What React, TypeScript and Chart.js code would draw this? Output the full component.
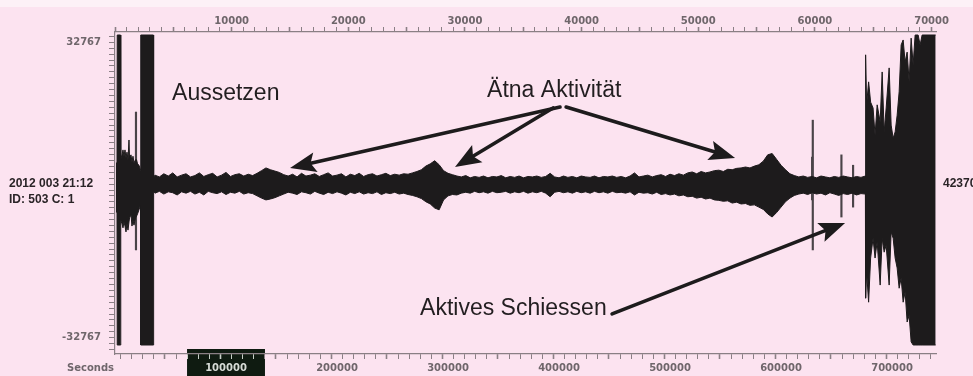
import React, { useEffect, useRef } from "react";
import { Chart, registerables } from "chart.js";

Chart.register(...registerables);

// ---- axes -------------------------------------------------------------
const secondsMin = 0;
const secondsMax = 739600;
const secondsMinorStep = 10000;
const secondsLabelStep = 100000;
const topMin = 0;
const topMax = 70380;
const topMinorStep = 1000;
const topLabelStep = 10000;
const countLimit = 32767;
const countMin = -36397;
const countMax = 35066;
const countTickStep = 1310.68;

// highlighted window on the seconds ruler
const windowStart = 64900;
const windowEnd = 135100;

// ---- waveform envelope: start (drop-out + first burst) -----------------
const leftTimes = [900, 1800, 2000, 5000, 5200, 6300, 7200, 8100, 9000, 9900, 10800, 11700, 12600, 13100, 14400, 15300, 16200, 17100, 18500, 19400, 20300, 21600, 23000, 23200, 34600, 34800];
const leftHigh = [6000, 6000, 34400, 34400, 6700, 7800, 8900, 7500, 8900, 7100, 8400, 6700, 11100, 7100, 7800, 6200, 7500, 6000, 6700, 6700, 5800, 5500, 4400, 34400, 34400, 2900];
const leftLow = [-4900, -4900, -34400, -34400, -6700, -7500, -8400, -7100, -8000, -9300, -7500, -8900, -7100, -6200, -5500, -8000, -6700, -7800, -6200, -5800, -5300, -4400, -3300, -34400, -34400, -400];

// ---- quiet band, one sample every 4000 s starting at 36000 s ------------
const bandStart = 36000;
const bandStep = 4000;
const bandHigh = [
  3300, 2900, 3600, 3100, 3800, 2900, 3300, 3600, 2900, 3200,
  3800, 3000, 3400, 3700, 2900, 3300, 3900, 3000, 3400, 3600,
  3100, 3500, 3200, 3700, 4300, 4900, 4500, 4200, 3900, 3400,
  3100, 3500, 2900, 3700, 3100, 3300, 3600, 3000, 3400, 3800,
  3100, 3300, 3600, 2900, 3500, 3200, 3700, 3000, 3400, 3600,
  3100, 3400, 3700, 3200, 3500, 3300, 3600, 3500, 3800, 4100,
  4500, 5300, 5800, 6500, 5600, 4300, 3700, 3400, 3100, 2900,
  3200, 2700, 3000, 2800, 3100, 2700, 3000, 2900, 3200, 2700,
  3000, 2800, 3100, 2700, 3000, 2900, 3100, 2800, 3000, 3700,
  2900, 2700, 3100, 2800, 3000, 2700, 3100, 2900, 2800, 3100,
  2700, 3000, 2900, 3100, 2800, 3000, 2700, 3100, 3800, 2900,
  3100, 3300, 2900, 3200, 3400, 3000, 3500, 3200, 3600, 3300,
  3800, 4000, 3600, 4100, 3800, 4000, 4300, 4400, 4100, 4600,
  4500, 4800, 4900, 5100, 4900, 5300, 5600, 6400, 7800, 8100,
  6800, 5500, 4500, 3600, 3200, 2900, 3100, 2800, 3000, 2700,
  3100, 2900, 2700, 3000, 2800, 3100, 2900, 2700, 3000, 2800,
  3100,
];
const bandLow = [
  -700, -300, -900, -400, -600, -1100, -400, -700, -300, -900,
  -500, -1100, -300, -600, -800, -400, -1000, -500, -700, -300,
  -900, -600, -800, -1300, -1800, -2200, -2000, -1700, -1300, -900,
  -500, -700, -1000, -400, -600, -900, -300, -700, -1000, -500,
  -800, -400, -700, -1100, -500, -800, -400, -900, -600, -800,
  -400, -1000, -600, -800, -500, -900, -700, -1000, -1200, -1500,
  -1900, -2600, -3100, -4000, -4400, -2200, -1300, -1000, -1100, -700,
  -500, -700, -300, -600, -400, -700, -300, -600, -500, -300,
  -700, -400, -600, -300, -700, -400, -600, -300, -700, -1500,
  -500, -300, -600, -400, -700, -300, -600, -400, -700, -300,
  -600, -400, -700, -300, -600, -500, -700, -400, -1100, -500,
  -700, -600, -900, -500, -1000, -800, -1100, -900, -1300, -1100,
  -1500, -1400, -1800, -1600, -2000, -1800, -2200, -2300, -2500, -2400,
  -2900, -2700, -3100, -3000, -3400, -3300, -3800, -4300, -5300, -6000,
  -5000, -3800, -2600, -1800, -1200, -900, -700, -1000, -600, -900,
  -700, -1100, -600, -900, -1200, -800, -1000, -700, -1100, -800,
  -900,
];

// ---- active shooting at the end -------------------------------------------
const rightTimes = [676200, 677100, 678900, 680700, 682900, 684700, 686600, 689300, 691100, 692900, 694700, 697400, 699200, 701000, 702800, 704600, 706400, 708200, 710000, 711800, 713600, 715400, 717200, 719000, 720800, 723500, 725300, 727100, 739300];
const rightHigh = [30000, 18900, 24000, 19500, 18200, 12200, 18900, 15100, 26200, 12900, 18200, 27100, 14400, 11500, 12900, 16600, 21800, 32200, 33300, 28400, 30600, 24000, 33700, 27800, 34400, 34400, 32200, 34400, 34400];
const rightLow = [-24000, -18200, -24900, -15100, -10700, -15100, -11500, -21100, -10700, -13800, -12200, -21100, -9300, -10700, -15100, -17300, -21800, -19500, -24900, -22600, -29300, -27800, -33700, -34400, -34400, -34400, -34400, -34400, -34400];

// ---- isolated thin spikes ------------------------------------------------
const spikeTimes = [18900, 628000, 628600, 654400, 664900];
const spikeHigh = [17300, 7300, 15500, 7800, 5500];
const spikeLow = [-13300, -2200, -13300, -6000, -3800];

// ---- annotations (data space) --------------------------------------------
const noteTexts = ["Aussetzen", "Ätna Aktivität", "Aktives Schiessen"];
const noteTimes = [51400, 335200, 274800];
const noteCounts = [20000, 20600, -27750];
const arrowFromTimes = [400900, 394600, 406400, 447800];
const arrowFromCounts = [18400, 18200, 18400, -27500];
const arrowToTimes = [157700, 306300, 558600, 657700];
const arrowToCounts = [4900, 5100, 7100, -7300];

const BG = "#fce3f0";
const INK = "#1d1b1c";
const RULER = "#8a7f85";
const TICKTXT = "#6f666b";
const AXIS_FONT = { family: "'DejaVu Sans', sans-serif", size: 10, weight: "bold" as const };

const bandTimes = bandHigh.map((_, i) => bandStart + i * bandStep);
const envTimes = [...leftTimes, ...bandTimes, ...rightTimes];
const envHigh = [...leftHigh, ...bandHigh, ...rightHigh];
const envLow = [...leftLow, ...bandLow, ...rightLow];

function rangeTicks(min: number, max: number, step: number) {
  const out: { value: number }[] = [];
  for (let v = min; v <= max + 1e-6; v += step) out.push({ value: v });
  return out;
}

function drawArrow(ctx: CanvasRenderingContext2D, x1: number, y1: number, x2: number, y2: number) {
  const ang = Math.atan2(y2 - y1, x2 - x1);
  const c = Math.cos(ang);
  const s = Math.sin(ang);
  const headLen = 26;
  const half = 10;
  const bx = x2 - headLen * c;
  const by = y2 - headLen * s;
  ctx.lineWidth = 3.6;
  ctx.lineCap = "round";
  ctx.beginPath();
  ctx.moveTo(x1, y1);
  ctx.lineTo(bx + 6 * c, by + 6 * s);
  ctx.stroke();
  ctx.beginPath();
  ctx.moveTo(x2, y2);
  ctx.lineTo(bx - half * s, by + half * c);
  ctx.lineTo(bx + 5 * c, by + 5 * s);
  ctx.lineTo(bx + half * s, by - half * c);
  ctx.closePath();
  ctx.fill();
}

const backgroundPlugin = {
  id: "seisBackground",
  beforeDraw(chart: any) {
    const { ctx, width, height, chartArea } = chart;
    const xs = chart.scales.x;
    ctx.save();
    ctx.fillStyle = BG;
    ctx.fillRect(0, 0, width, height);
    ctx.fillStyle = "#fdf1f7";
    ctx.fillRect(0, 0, width, 7);
    const x1 = xs.getPixelForValue(windowStart);
    const x2 = xs.getPixelForValue(windowEnd);
    const top = chartArea.bottom - 5;
    ctx.fillStyle = "#0f1b11";
    ctx.fillRect(x1, top, x2 - x1, height - top);
    ctx.restore();
  },
};

const notesPlugin = {
  id: "seisNotes",
  afterDatasetsDraw(chart: any) {
    const { ctx } = chart;
    const xs = chart.scales.x;
    const ys = chart.scales.y;
    ctx.save();
    ctx.strokeStyle = INK;
    ctx.fillStyle = INK;
    for (let i = 0; i < arrowFromTimes.length; i++) {
      drawArrow(
        ctx,
        xs.getPixelForValue(arrowFromTimes[i]),
        ys.getPixelForValue(arrowFromCounts[i]),
        xs.getPixelForValue(arrowToTimes[i]),
        ys.getPixelForValue(arrowToCounts[i])
      );
    }
    ctx.font = "23px 'Liberation Sans', Arial, sans-serif";
    ctx.textAlign = "left";
    ctx.textBaseline = "alphabetic";
    ctx.fillStyle = "#221e20";
    for (let i = 0; i < noteTexts.length; i++) {
      ctx.fillText(noteTexts[i], xs.getPixelForValue(noteTimes[i]), ys.getPixelForValue(noteCounts[i]));
    }
    ctx.restore();
  },
};

const inWindow = (v: number) => v >= windowStart && v <= windowEnd;

export default function App() {
  const ref = useRef<HTMLCanvasElement>(null);

  useEffect(() => {
    if (!ref.current) return;
    const chart = new Chart(ref.current, {
      type: "line",
      data: {
        datasets: [
          {
            label: "upper",
            data: envTimes.map((t, i) => ({ x: t, y: envHigh[i] })),
            borderColor: INK,
            backgroundColor: INK,
            borderWidth: 1,
            pointRadius: 0,
            tension: 0,
            fill: "+1",
            xAxisID: "x",
            yAxisID: "y",
          },
          {
            label: "lower",
            data: envTimes.map((t, i) => ({ x: t, y: envLow[i] })),
            borderColor: INK,
            backgroundColor: INK,
            borderWidth: 1,
            pointRadius: 0,
            tension: 0,
            fill: false,
            xAxisID: "x",
            yAxisID: "y",
          },
          {
            type: "bar",
            label: "spikes",
            data: spikeTimes.map((t, i) => ({ x: t, y: [spikeLow[i], spikeHigh[i]] })) as any,
            backgroundColor: "#4a4448",
            borderWidth: 0,
            barThickness: 1.5,
            xAxisID: "x",
            yAxisID: "y",
          } as any,
        ],
      },
      options: {
        animation: false,
        responsive: false,
        events: [],
        layout: { padding: { left: 0, right: 37, top: 0, bottom: 0 } },
        plugins: { legend: { display: false }, tooltip: { enabled: false } },
        scales: {
          x: {
            type: "linear",
            position: "bottom",
            min: secondsMin,
            max: secondsMax,
            offset: false,
            afterFit: (s: any) => {
              s.height = 22;
            },
            afterBuildTicks: (s: any) => {
              s.ticks = rangeTicks(0, 730000, secondsMinorStep);
            },
            ticks: {
              autoSkip: false,
              maxRotation: 0,
              minRotation: 0,
              padding: 3,
              font: AXIS_FONT,
              color: (c: any) => (c.tick && inWindow(c.tick.value) ? "#d6dbd6" : TICKTXT),
              callback: (v: any) => (v > 0 && v % secondsLabelStep === 0 ? String(v) : ""),
            },
            grid: {
              drawOnChartArea: false,
              drawTicks: true,
              tickLength: 5,
              tickColor: (c: any) => (c.tick && inWindow(c.tick.value) ? "#c9d0c9" : RULER),
              tickWidth: (c: any) => (c.tick && c.tick.value % 50000 === 0 ? 1.6 : 1),
            },
            border: { display: true, color: RULER, width: 1.2 },
          },
          x2: {
            type: "linear",
            position: "top",
            min: topMin,
            max: topMax,
            offset: false,
            afterFit: (s: any) => {
              s.height = 32;
            },
            afterBuildTicks: (s: any) => {
              s.ticks = rangeTicks(0, 70000, topMinorStep);
            },
            ticks: {
              autoSkip: false,
              maxRotation: 0,
              minRotation: 0,
              padding: 0,
              font: AXIS_FONT,
              color: TICKTXT,
              callback: (v: any) => (v > 0 && v % topLabelStep === 0 ? String(v) : ""),
            },
            grid: {
              drawOnChartArea: false,
              drawTicks: true,
              tickLength: 5,
              tickColor: RULER,
              tickWidth: (c: any) => (c.tick && c.tick.value % 5000 === 0 ? 1.6 : 1),
            },
            border: { display: true, color: RULER, width: 1.2 },
          },
          y: {
            type: "linear",
            position: "left",
            min: countMin,
            max: countMax,
            afterFit: (s: any) => {
              s.width = 115;
            },
            afterBuildTicks: (s: any) => {
              const t: { value: number }[] = [];
              for (let k = -27; k <= 26; k++) t.push({ value: k * countTickStep });
              s.ticks = t;
            },
            ticks: {
              autoSkip: false,
              padding: 8,
              font: AXIS_FONT,
              color: TICKTXT,
              callback: (v: any) => (Math.abs(Math.abs(v) - countLimit) < 1 ? String(Math.round(v)) : ""),
            },
            grid: {
              drawOnChartArea: false,
              drawTicks: true,
              tickLength: 6,
              tickColor: RULER,
              tickWidth: 1,
            },
            border: { display: true, color: RULER, width: 1.2 },
          },
        },
      },
      plugins: [backgroundPlugin, notesPlugin],
    } as any);
    return () => chart.destroy();
  }, []);

  const sideFont: React.CSSProperties = {
    position: "absolute",
    fontFamily: "'Liberation Sans', Arial, sans-serif",
    fontWeight: "bold",
    fontSize: 12,
    color: "#2a2427",
    whiteSpace: "nowrap",
    lineHeight: "14px",
  };

  return (
    <div
      style={{
        position: "absolute",
        left: 0,
        top: 0,
        width: 973,
        height: 376,
        overflow: "hidden",
        background: BG,
      }}
    >
      <canvas ref={ref} width={973} height={376} style={{ position: "absolute", left: 0, top: 0, width: 973, height: 376 }} />
      <div style={{ ...sideFont, left: 9, top: 176 }}>2012 003 21:12</div>
      <div style={{ ...sideFont, left: 9, top: 192 }}>ID: 503 C: 1</div>
      <div style={{ ...sideFont, left: 943, top: 176 }}>42370</div>
      <div
        style={{
          position: "absolute",
          left: 67,
          top: 362,
          fontFamily: "'DejaVu Sans', sans-serif",
          fontWeight: "bold",
          fontSize: 10,
          color: TICKTXT,
          lineHeight: "12px",
        }}
      >
        Seconds
      </div>
    </div>
  );
}
